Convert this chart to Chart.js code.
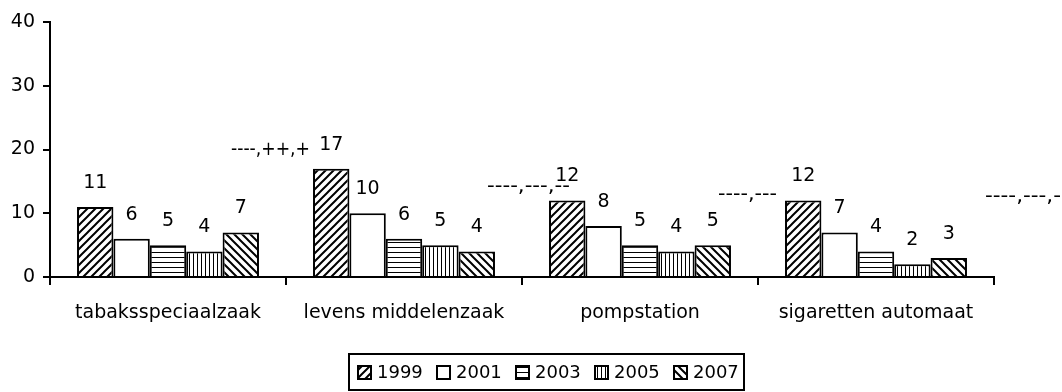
<!DOCTYPE html>
<html>
<head>
<meta charset="utf-8">
<script src="https://cdn.jsdelivr.net/npm/chart.js@4/dist/chart.umd.min.js"></script>
<style>
  html, body { margin: 0; padding: 0; background: #fff; }
  canvas { display: block; }
</style>
</head>
<body>
<canvas id="salesChart" width="1062" height="392"></canvas>
<script>
// verkooppunten per jaar
const categories = ["tabaksspeciaalzaak", "levens middelenzaak", "pompstation", "sigaretten automaat"];
const years = ["1999", "2001", "2003", "2005", "2007"];
const values1999 = [11, 17, 12, 12];
const values2001 = [6, 10, 8, 7];
const values2003 = [5, 6, 5, 4];
const values2005 = [4, 5, 4, 2];
const values2007 = [7, 4, 5, 3];
const yTicks = [0, 10, 20, 30, 40];
const trendNotes = ["----,++,+", "----,---,--", "----,---", "----,---,-"];

const FONT = "DejaVu Sans";

// black & white fill patterns
function makePattern(kind) {
  if (kind === "white") return "#fff";
  const s = kind === "horiz" ? 5 : kind === "vert" ? 4 : 8;
  const c = document.createElement("canvas");
  c.width = s; c.height = s;
  const g = c.getContext("2d");
  g.fillStyle = "#fff";
  g.fillRect(0, 0, s, s);
  g.strokeStyle = "#000";
  g.fillStyle = "#000";
  if (kind === "horiz") {
    g.fillRect(0, 2, s, 1);
  } else if (kind === "vert") {
    g.fillRect(1, 0, 1, s);
  } else {
    g.lineWidth = 2;
    g.beginPath();
    if (kind === "up") {
      g.moveTo(-1, s + 1); g.lineTo(s + 1, -1);
      g.moveTo(-2, 2); g.lineTo(2, -2);
      g.moveTo(s - 2, s + 2); g.lineTo(s + 2, s - 2);
    } else {
      g.moveTo(-1, -1); g.lineTo(s + 1, s + 1);
      g.moveTo(-2, s - 2); g.lineTo(2, s + 2);
      g.moveTo(s - 2, -2); g.lineTo(s + 2, 2);
    }
    g.stroke();
  }
  return g.createPattern(c, "repeat");
}

const fills = ["up", "white", "horiz", "vert", "down"].map(makePattern);
const seriesValues = [values1999, values2001, values2003, values2005, values2007];

const datasets = years.map((y, i) => ({
  label: y,
  data: seriesValues[i],
  backgroundColor: fills[i],
  borderColor: "#000",
  borderWidth: 2,
  categoryPercentage: 0.771,
  barPercentage: 1
}));

// numbers above the bars
const valueLabels = {
  id: "valueLabels",
  afterDatasetsDraw(chart) {
    const ctx = chart.ctx;
    ctx.save();
    ctx.font = "19px '" + FONT + "'";
    ctx.fillStyle = "#000";
    ctx.textAlign = "center";
    ctx.textBaseline = "middle";
    chart.data.datasets.forEach((ds, di) => {
      chart.getDatasetMeta(di).data.forEach((bar, i) => {
        ctx.fillText(String(ds.data[i]), bar.x, bar.y - 24);
      });
    });
    ctx.restore();
  }
};

// significance notes next to each group
const notes = {
  id: "notes",
  afterDatasetsDraw(chart) {
    const ctx = chart.ctx;
    const x = chart.scales.x, y = chart.scales.y;
    const dx = [63, 83, 78, 109];
    const lvl = [19.9, 14.1, 12.9, 12.5];
    const span = [79, 83, 59, 76];
    ctx.save();
    ctx.font = "19px '" + FONT + "'";
    ctx.fillStyle = "#000";
    ctx.textAlign = "left";
    ctx.textBaseline = "middle";
    trendNotes.forEach((t, i) => {
      const px = x.getPixelForValue(i) + dx[i];
      const py = y.getPixelForValue(lvl[i]);
      const k = span[i] / ctx.measureText(t).width;
      ctx.save();
      ctx.translate(px, py);
      ctx.scale(k, 1);
      ctx.fillText(t, 0, 0);
      ctx.restore();
    });
    ctx.restore();
  }
};

// boxed legend under the axis
const boxLegend = {
  id: "boxLegend",
  afterDraw(chart) {
    const ctx = chart.ctx;
    const left = 349, top = 354, w = 395, h = 36;
    ctx.save();
    ctx.strokeStyle = "#000";
    ctx.lineWidth = 2;
    ctx.strokeRect(left, top, w, h);
    ctx.font = "18px '" + FONT + "'";
    ctx.textBaseline = "middle";
    ctx.textAlign = "left";
    let x = left + 9;
    const cy = top + 19;
    chart.data.datasets.forEach(ds => {
      ctx.fillStyle = ds.backgroundColor;
      ctx.fillRect(x, cy - 7, 13, 13);
      ctx.lineWidth = 2;
      ctx.strokeRect(x, cy - 7, 13, 13);
      ctx.fillStyle = "#000";
      ctx.fillText(ds.label, x + 19, cy);
      x += 79;
    });
    ctx.restore();
  }
};

Chart.defaults.font.family = FONT;
Chart.defaults.font.size = 17;
Chart.defaults.color = "#000";

new Chart("salesChart", {
  type: "bar",
  data: { labels: categories, datasets: datasets },
  options: {
    responsive: false,
    animation: false,
    devicePixelRatio: 1,
    layout: { padding: { left: 0, top: 22, right: 68, bottom: 0 } },
    plugins: {
      legend: { display: false },
      tooltip: { enabled: false }
    },
    scales: {
      x: {
        afterFit(scale) { scale.height = 115; },
        grid: { offset: true, drawOnChartArea: false, tickLength: 8, color: "#000", lineWidth: 2 },
        border: { color: "#000", width: 2 },
        ticks: { padding: 17, maxRotation: 0, font: { size: 19 } }
      },
      y: {
        min: 0,
        max: 40,
        afterFit(scale) { scale.width = 50; },
        afterBuildTicks(scale) { scale.ticks = yTicks.map(v => ({ value: v })); },
        grid: { drawOnChartArea: false, tickLength: 7, color: "#000", lineWidth: 2 },
        border: { color: "#000", width: 2 },
        ticks: { padding: 8, font: { size: 19 } }
      }
    }
  },
  plugins: [valueLabels, notes, boxLegend]
});
</script>
</body>
</html>
